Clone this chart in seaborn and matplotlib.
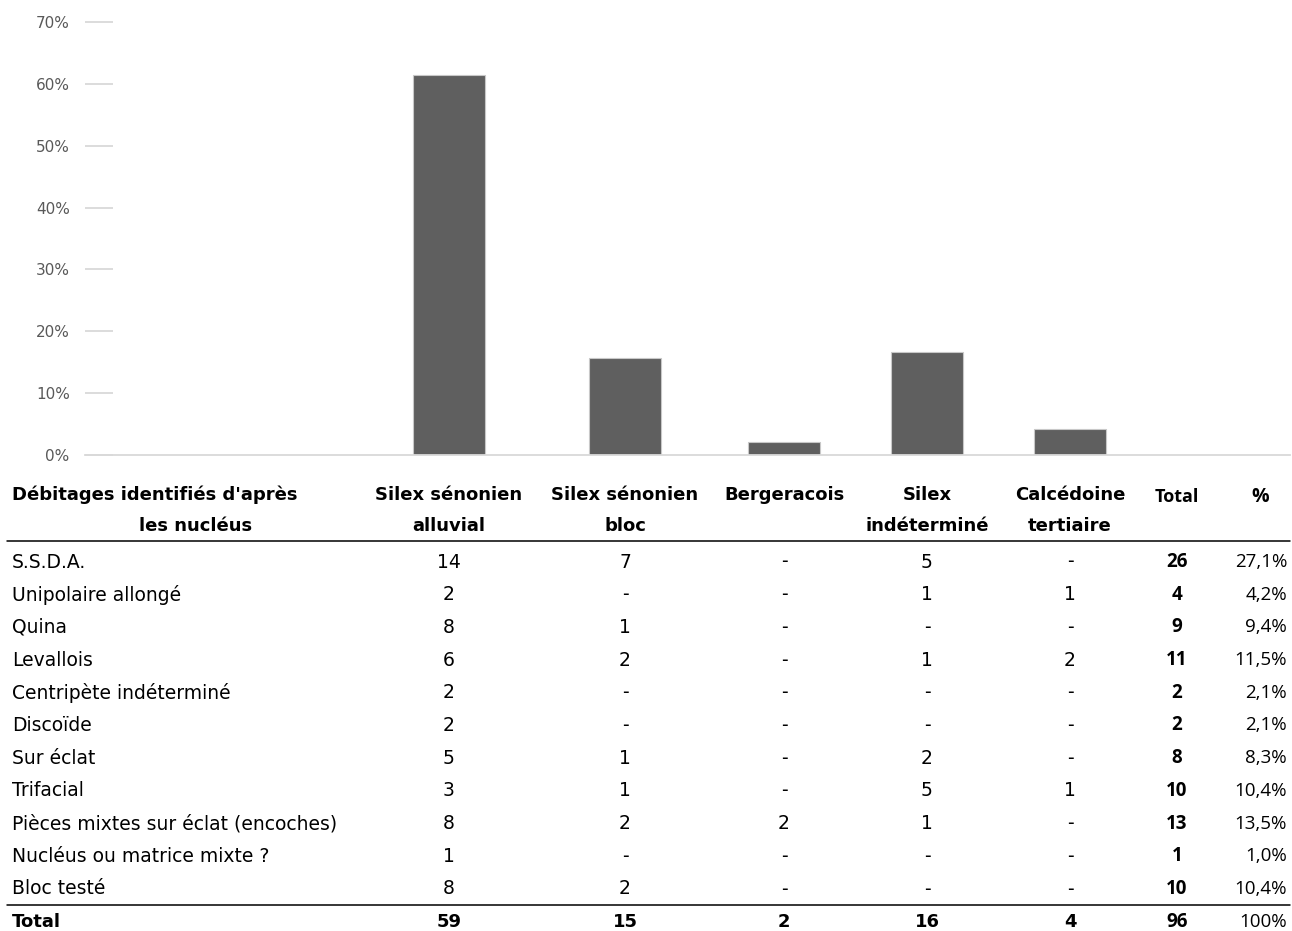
import matplotlib
matplotlib.use("Agg")
import matplotlib.pyplot as plt
from matplotlib.lines import Line2D
import seaborn as sns
import numpy as np

sns.set_theme(style="white")
plt.rcParams['font.family'] = ['DejaVu Sans']
plt.rcParams['text.color'] = 'black'

materials = ["Silex sénonien\nalluvial", "Silex sénonien\nbloc", "Bergeracois",
             "Silex\nindéterminé", "Calcédoine\ntertiaire"]
row_labels = ["S.S.D.A.", "Unipolaire allongé", "Quina", "Levallois",
              "Centripète indéterminé", "Discoïde", "Sur éclat", "Trifacial",
              "Pièces mixtes sur éclat (encoches)", "Nucléus ou matrice mixte ?",
              "Bloc testé"]
alluvial    = [14, 2, 8, 6, 2, 2, 5, 3, 8, 1, 8]
bloc        = [7, 0, 1, 2, 0, 0, 1, 1, 2, 0, 2]
bergeracois = [0, 0, 0, 0, 0, 0, 0, 0, 2, 0, 0]
indetermine = [5, 1, 0, 1, 0, 0, 2, 5, 1, 0, 0]
calcedoine  = [0, 1, 0, 2, 0, 0, 0, 1, 0, 0, 0]
row_totals  = [26, 4, 9, 11, 2, 2, 8, 10, 13, 1, 10]
col_totals  = [59, 15, 2, 16, 4]   # as printed in the source table
grand_total = 96

shares = [t / grand_total for t in col_totals]
columns = [alluvial, bloc, bergeracois, indetermine, calcedoine]

# layout (pixel positions in the 1292x931 canvas)
W, H = 1292, 931
col_x = [449, 625, 784, 927, 1070]
total_x, pct_x = 1177, 1287
label_x = 12

def fx(px):
    return px / W

def fy(py):
    return 1 - py / H

fig = plt.figure(figsize=(W / 100, H / 100), dpi=100)

# bar chart
ax = fig.add_axes([fx(85), fy(455), fx(1290) - fx(85), fy(22) - fy(455)])
sns.barplot(x=col_x, y=shares, native_scale=True, width=72 / 143,
            color="#5f5f5f", edgecolor="#c8c8c8", linewidth=0.8,
            saturation=1, ax=ax)
ax.set_xlim(85, 1290)
ax.set_ylim(0, 0.7)
ticks = np.arange(0, 0.71, 0.1)
ax.set_yticks(ticks)
ax.set_yticklabels([f"{int(round(v * 100))}%" for v in ticks])
ax.set_xticks([])
ax.set_xlabel("")
ax.set_ylabel("")
for s in ["top", "right", "left"]:
    ax.spines[s].set_visible(False)
ax.spines["bottom"].set_color("#d9d9d9")
ax.spines["bottom"].set_linewidth(1.3)
ax.tick_params(axis="y", direction="in", length=20, width=1.3, color="#d9d9d9",
               pad=11, labelsize=11, labelcolor="#595959", left=True)
ax.grid(False)

# table
txt = dict(fontsize=13.5, color="black")
bold = dict(fontsize=13, color="black", fontweight="bold")
calib = ['Open Sans', 'DejaVu Sans']

fig.text(fx(label_x), fy(495), "Débitages identifiés d'après", ha="left", va="center", **bold)
fig.text(fx(196), fy(526), "les nucléus", ha="center", va="center", **bold)
for x, name in zip(col_x, materials):
    for i, ln in enumerate(name.split("\n")):
        fig.text(fx(x), fy(495 + 31 * i), ln, ha="center", va="center", **bold)
fig.text(fx(total_x), fy(497), "Total", ha="center", va="center", family=calib,
         fontsize=13, fontweight="bold", color="black")
fig.text(fx(1260), fy(497), "%", ha="center", va="center", family=calib,
         fontsize=14, fontweight="bold", color="black")

fig.add_artist(Line2D([fx(7), fx(1290)], [fy(541), fy(541)], color="black", lw=1.1))
fig.add_artist(Line2D([fx(7), fx(1290)], [fy(905), fy(905)], color="black", lw=1.1))

row_y0, row_step = 562, 32.7
for r, label in enumerate(row_labels):
    y = fy(row_y0 + r * row_step)
    fig.text(fx(label_x), y, label, ha="left", va="center", **txt)
    for x, col in zip(col_x, columns):
        v = col[r]
        fig.text(fx(x), y, str(v) if v else "-", ha="center", va="center", **txt)
    fig.text(fx(total_x), y, str(row_totals[r]), ha="center", va="center",
             family=calib, fontsize=13.5, fontweight="bold", color="black")
    pct = f"{row_totals[r] / grand_total * 100:.1f}%".replace(".", ",")
    fig.text(fx(pct_x), y, pct, ha="right", va="center", family=calib,
             fontsize=13.5, color="black")

yt = fy(922)
fig.text(fx(label_x), yt, "Total", ha="left", va="center", **bold)
for x, t in zip(col_x, col_totals):
    fig.text(fx(x), yt, str(t), ha="center", va="center", **bold)
fig.text(fx(total_x), yt, str(grand_total), ha="center", va="center", family=calib,
         fontsize=13.5, fontweight="bold", color="black")
fig.text(fx(pct_x), yt, "100%", ha="right", va="center", family=calib,
         fontsize=13.5, color="black")

fig.savefig("out.png", dpi=100)
